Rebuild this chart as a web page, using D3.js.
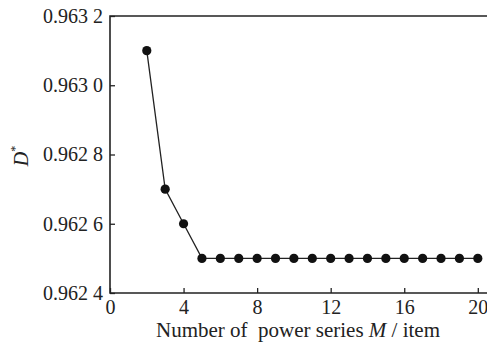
<!DOCTYPE html>
<html>
<head>
<meta charset="utf-8">
<script src="https://cdn.jsdelivr.net/npm/d3@7"></script>
<style>
  html, body { margin: 0; padding: 0; background: #fff; }
  svg { display: block; }
  text { font-family: "Liberation Serif", "Times New Roman", serif; fill: #222; }
</style>
</head>
<body>
<svg id="chart" width="487" height="345"></svg>
<script>
// Number of power series terms M and the resulting D* values
const seriesM = [2, 3, 4, 5, 6, 7, 8, 9, 10, 11, 12, 13, 14, 15, 16, 17, 18, 19, 20];
const dStar = [0.9631, 0.9627, 0.9626, 0.9625, 0.9625, 0.9625, 0.9625, 0.9625, 0.9625,
               0.9625, 0.9625, 0.9625, 0.9625, 0.9625, 0.9625, 0.9625, 0.9625, 0.9625, 0.9625];
const xTicks = [0, 4, 8, 12, 16, 20];
const yTicks = [0.9624, 0.9626, 0.9628, 0.9630, 0.9632];
const yTickLabels = ["0.962 4", "0.962 6", "0.962 8", "0.963 0", "0.963 2"];

const svg = d3.select("#chart");
const plotLeft = 110, plotRight = 487, plotTop = 16, plotBottom = 293;
const serif = '"Liberation Serif", "Times New Roman", serif';

const x = d3.scaleLinear().domain([0, 20.5]).range([plotLeft, plotRight]);
const y = d3.scaleLinear().domain([0.9624, 0.9632]).range([plotBottom, plotTop]);

const ink = "#222";

// Frame: top, left and bottom edges
svg.append("path")
  .attr("d", `M${plotRight},${plotTop}H${plotLeft}V${plotBottom}H${plotRight}`)
  .attr("fill", "none").attr("stroke", ink).attr("stroke-width", 1.6);

// X axis (ticks point inward)
const xAxis = svg.append("g").attr("transform", `translate(0,${plotBottom})`)
  .call(d3.axisBottom(x).tickValues(xTicks).tickSizeInner(-5).tickSizeOuter(0).tickPadding(7));
xAxis.select(".domain").remove();
xAxis.selectAll("line").attr("stroke", ink).attr("stroke-width", 1.3);
xAxis.selectAll("text").attr("fill", ink).attr("dy", "0.72em")
  .style("font-family", serif).style("font-size", "20px");

// Y axis (ticks point inward)
const yAxis = svg.append("g").attr("transform", `translate(${plotLeft},0)`)
  .call(d3.axisLeft(y).tickValues(yTicks).tickSizeInner(-5).tickSizeOuter(0).tickPadding(7)
    .tickFormat((d, i) => yTickLabels[i]));
yAxis.select(".domain").remove();
yAxis.selectAll("line").attr("stroke", ink).attr("stroke-width", 1.3);
yAxis.selectAll("text").attr("fill", ink)
  .style("font-family", serif).style("font-size", "20px");

// Data line and markers
const pts = seriesM.map((m, i) => [m, dStar[i]]);
svg.append("path")
  .datum(pts)
  .attr("d", d3.line().x(d => x(d[0])).y(d => y(d[1])))
  .attr("fill", "none").attr("stroke", ink).attr("stroke-width", 1.3);

svg.append("g").selectAll("circle").data(pts).join("circle")
  .attr("cx", d => x(d[0])).attr("cy", d => y(d[1])).attr("r", 4.6)
  .attr("fill", "#111");

// Axis titles
const xt = svg.append("text").attr("x", 298).attr("y", 337)
  .attr("text-anchor", "middle").style("font-size", "21px");
xt.append("tspan").text("Number of\u00a0 power series ");
xt.append("tspan").style("font-style", "italic").text("M");
xt.append("tspan").text(" / item");

const yt = svg.append("text")
  .attr("transform", "translate(28,156) rotate(-90)")
  .attr("text-anchor", "middle").style("font-size", "20px");
yt.append("tspan").style("font-style", "italic").text("D");
yt.append("tspan").style("font-size", "12px").attr("dy", -9).text("*");
</script>
</body>
</html>
